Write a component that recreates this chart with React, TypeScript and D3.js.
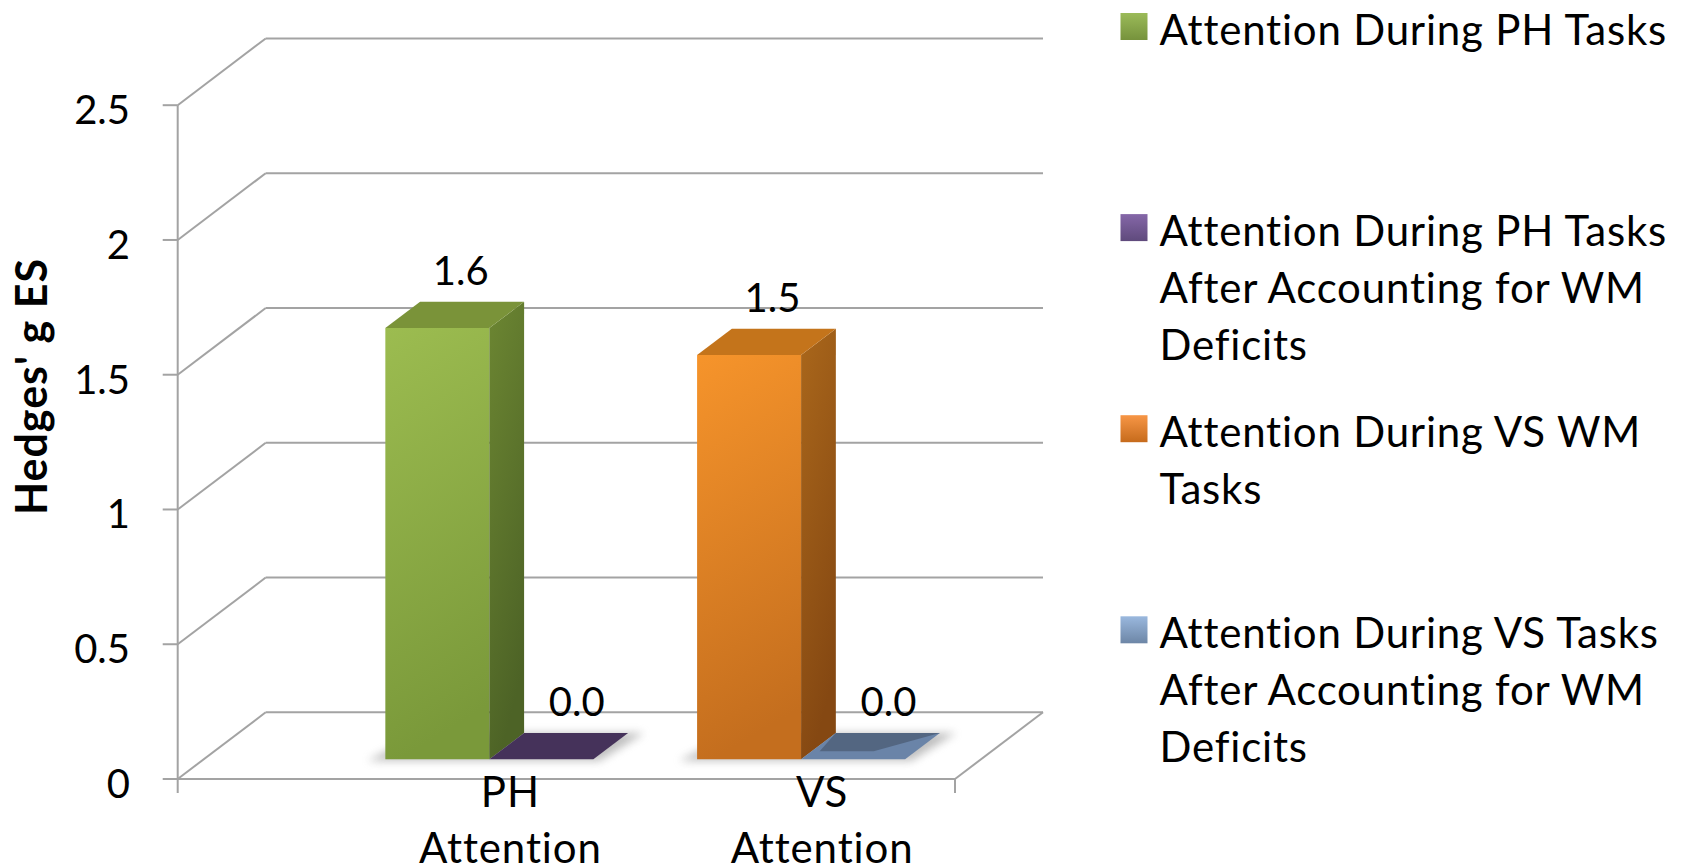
import React from 'react';
import * as d3 from 'd3';

// Chart data
const categories = ['PH Attention', 'VS Attention'];
const seriesNames = [
  'Attention During PH Tasks',
  'Attention During PH Tasks After Accounting for WM Deficits',
  'Attention During VS WM Tasks',
  'Attention During VS Tasks After Accounting for WM Deficits',
];
// legend text as it wraps in the legend box
const legendLines = [
  ['Attention During PH Tasks'],
  ['Attention During PH Tasks', 'After Accounting for WM', 'Deficits'],
  ['Attention During VS WM', 'Tasks'],
  ['Attention During VS Tasks', 'After Accounting for WM', 'Deficits'],
];
const seriesCategory = ['PH Attention', 'PH Attention', 'VS Attention', 'VS Attention'];
const seriesSlot = ['a', 'b', 'a', 'b'];
const seriesValues = [1.6, 0.0, 1.5, 0.0];
const yTicks = [0, 0.5, 1, 1.5, 2, 2.5];
const yTickLabels = ['0', '0.5', '1', '1.5', '2', '2.5'];

// palette: front face gradient, side face gradient, top face, legend gradient
const palette = [
  { front: ['#9cbc50', '#7a993a'], side: ['#6c8632', '#4d6326'], top: '#7a9339', legend: ['#9bbb59', '#76923c'] },
  { front: ['#4c3764', '#3e2c52'], side: ['#3a2a4e', '#2e2140'], top: '#45325a', legend: ['#8567a8', '#5f4a7c'] },
  { front: ['#f6942b', '#c46e1e'], side: ['#aa671b', '#854812'], top: '#c4741b', legend: ['#f79646', '#c66b1c'] },
  { front: ['#6c86a8', '#56698a'], side: ['#52657f', '#43546b'], top: '#6a84a8', legend: ['#9ab8de', '#6d86a6'] },
];

const W = 1684;
const H = 868;
const FONT = 'Lato, "Open Sans", sans-serif';

// projection of the 3-D box: depth d in [0,1] shifts right and up
const DX = 88;
const DY = -66.7;
const PLANE_LEFT = 177.7;
const PLANE_RIGHT = 955;
const D0 = 0.295;
const D1 = 0.69;

const y = d3.scaleLinear().domain([0, 2.5]).range([779, 105.2]);
const xCat = d3.scaleBand<string>().domain(categories).range([307.5, 931]).padding(0);
const xSlot = d3.scaleBand<string>().domain(['a', 'b']).range([-104, 104]).padding(0);

const proj = (x: number, v: number, d: number): [number, number] => [x + DX * d, y(v) + DY * d];
const poly = (pts: [number, number][]) => {
  const p = d3.path();
  pts.forEach((pt, i) => (i === 0 ? p.moveTo(pt[0], pt[1]) : p.lineTo(pt[0], pt[1])));
  p.closePath();
  return p.toString();
};

export default function App() {
  React.useEffect(() => {
    document.body.style.margin = '0';
  }, []);

  const grid = '#a3a3a3';

  const bars = seriesValues.map((v, i) => {
    const cx = (xCat(seriesCategory[i]) as number) + xCat.bandwidth() / 2;
    const xl = cx + (xSlot(seriesSlot[i]) as number);
    const xr = xl + xSlot.bandwidth();
    return { i, v, xl, xr };
  });

  // footprint shadow for each category group
  const groups = categories.map((c) => {
    const cx = (xCat(c) as number) + xCat.bandwidth() / 2;
    const xl = cx - 104 - 16;
    const xr = cx + 104 + 16;
    return poly([proj(xl, 0, D0 - 0.02), proj(xr - 8, 0, D0 - 0.02), proj(xr, 0, D1), proj(xl + 18, 0, D1)]);
  });

  return (
    <svg width={W} height={H} style={{ display: 'block', background: '#fff' }} fontFamily={FONT}>
      <defs>
        {palette.map((p, i) => (
          <React.Fragment key={i}>
            <linearGradient id={`front${i}`} x1="0" y1="0" x2="0.15" y2="1">
              <stop offset="0" stopColor={p.front[0]} />
              <stop offset="1" stopColor={p.front[1]} />
            </linearGradient>
            <linearGradient id={`side${i}`} x1="0" y1="0" x2="0.3" y2="1">
              <stop offset="0" stopColor={p.side[0]} />
              <stop offset="1" stopColor={p.side[1]} />
            </linearGradient>
            <linearGradient id={`leg${i}`} x1="0" y1="0" x2="0" y2="1">
              <stop offset="0" stopColor={p.legend[0]} />
              <stop offset="1" stopColor={p.legend[1]} />
            </linearGradient>
          </React.Fragment>
        ))}
        <filter id="soft" x="-20%" y="-50%" width="140%" height="200%">
          <feGaussianBlur stdDeviation="4" />
        </filter>
      </defs>

      {/* back wall and side wall gridlines */}
      {yTicks.map((t) => {
        const [bx, by] = proj(PLANE_LEFT, t, 1);
        const [rx] = proj(PLANE_RIGHT, t, 1);
        return (
          <g key={t} stroke={grid} strokeWidth={2} fill="none">
            <line x1={PLANE_LEFT} y1={y(t)} x2={bx} y2={by} />
            <line x1={bx} y1={by} x2={rx} y2={by} />
          </g>
        );
      })}

      {/* floor and axes */}
      <g stroke={grid} strokeWidth={2} fill="none">
        <line x1={PLANE_LEFT} y1={y(0)} x2={PLANE_RIGHT} y2={y(0)} />
        <line x1={PLANE_RIGHT} y1={y(0)} x2={proj(PLANE_RIGHT, 0, 1)[0]} y2={proj(PLANE_RIGHT, 0, 1)[1]} />
        <line x1={PLANE_LEFT} y1={y(2.5)} x2={PLANE_LEFT} y2={y(0) + 14} />
        <line x1={PLANE_RIGHT} y1={y(0)} x2={PLANE_RIGHT} y2={y(0) + 14} />
        {yTicks.map((t) => (
          <line key={t} x1={PLANE_LEFT - 15} y1={y(t)} x2={PLANE_LEFT} y2={y(t)} />
        ))}
      </g>

      {/* shadows under the columns */}
      {groups.map((d, i) => (
        <path key={i} d={d} fill="#8a8a8a" opacity={0.55} filter="url(#soft)" />
      ))}

      {/* columns */}
      {bars.map(({ i, v, xl, xr }) => {
        const front = poly([proj(xl, 0, D0), proj(xr, 0, D0), proj(xr, v, D0), proj(xl, v, D0)]);
        const top = poly([proj(xl, v, D0), proj(xr, v, D0), proj(xr, v, D1), proj(xl, v, D1)]);
        const side = poly([proj(xr, 0, D0), proj(xr, 0, D1), proj(xr, v, D1), proj(xr, v, D0)]);
        const flat = v === 0;
        // inner darker inset on flat tiles
        const inset = poly([
          proj(xl, v, D1),
          proj(xl + 8, v, D0 + 0.12),
          proj(xr - 42, v, D0 + 0.12),
          proj(xr, v, D1),
        ]);
        return (
          <g key={i}>
            {!flat && <path d={front} fill={`url(#front${i})`} />}
            {!flat && <path d={side} fill={`url(#side${i})`} />}
            <path d={top} fill={palette[i].top} />
            {flat && i === 3 && <path d={inset} fill="#536681" />}
          </g>
        );
      })}

      {/* value labels */}
      {bars.map(({ i, v, xl, xr }) => {
        const a = proj((xl + xr) / 2, v, D0);
        const b = proj((xl + xr) / 2, v, D1);
        const lx = (a[0] + b[0]) / 2 + (v === 0 ? 18 : 6);
        const ly = (a[1] + b[1]) / 2 - 30;
        return (
          <text key={i} x={lx} y={ly} textAnchor="middle" fontSize={40} fill="#000">
            {d3.format('.1f')(v)}
          </text>
        );
      })}

      {/* y tick labels */}
      {yTicks.map((t, k) => (
        <text key={t} x={130} y={y(t) + 19} textAnchor="end" fontSize={40} fill="#000">
          {yTickLabels[k]}
        </text>
      ))}

      {/* y axis title */}
      <text
        transform={`translate(46.7, ${386.5}) rotate(-90)`}
        textAnchor="middle"
        fontSize={43}
        fontWeight="bold"
        letterSpacing={1.0}
        fill="#000"
      >
        Hedges' g ES
      </text>

      {/* category labels */}
      {categories.map((c) => {
        const cx = (xCat(c) as number) + xCat.bandwidth() / 2 + 47;
        return (
          <text key={c} textAnchor="middle" fontSize={42} letterSpacing={0.9} fill="#000">
            {c.split(' ').map((w, k) => (
              <tspan key={k} x={cx} y={806.7 + k * 56}>
                {w}
              </tspan>
            ))}
          </text>
        );
      })}

      {/* legend */}
      {seriesNames.map((name, i) => {
        const base = 45 + i * 201.1;
        return (
          <g key={name}>
            <rect x={1120.5} y={base - 32} width={27} height={27} fill={`url(#leg${i})`} />
            <text fontSize={42} letterSpacing={0.8} fill="#000">
              {legendLines[i].map((line, k) => (
                <tspan key={k} x={1159.6} y={base + k * 56.7}>
                  {line}
                </tspan>
              ))}
            </text>
          </g>
        );
      })}
    </svg>
  );
}
